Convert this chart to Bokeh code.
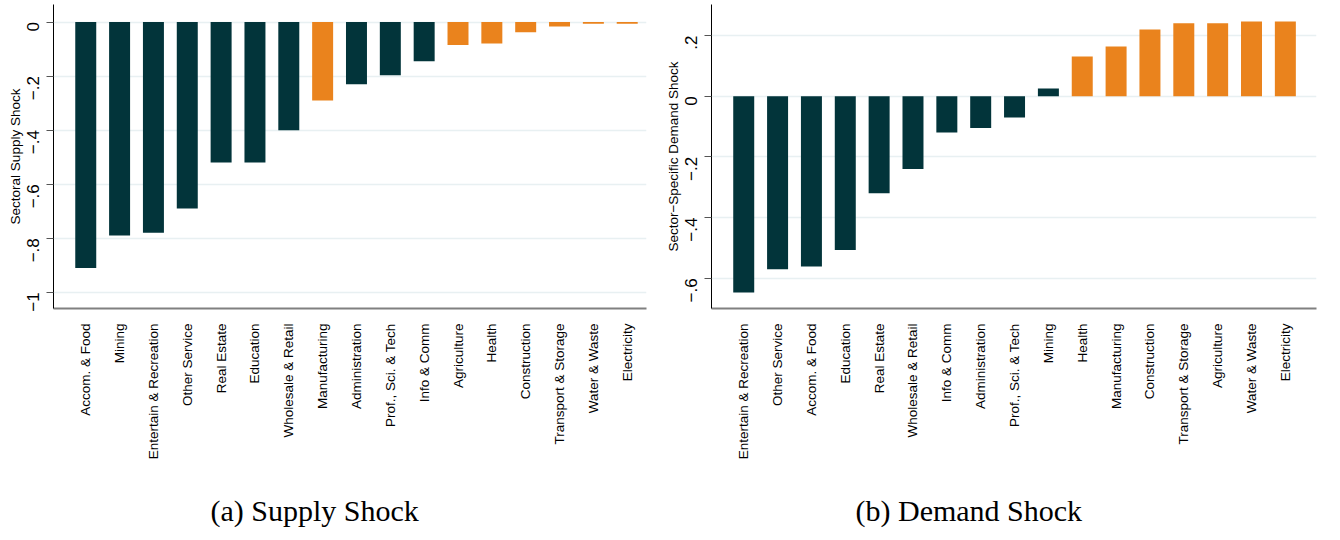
import math

from bokeh.embed import file_html
from bokeh.layouts import row
from bokeh.models import ColumnDataSource, FixedTicker, Range1d, Title
from bokeh.plotting import figure
from bokeh.resources import INLINE

# Sector shocks, sorted from the most negative to the least negative
supply_sectors = [
    "Accom. & Food", "Mining", "Entertain & Recreation", "Other Service",
    "Real Estate", "Education", "Wholesale & Retail", "Manufacturing",
    "Administration", "Prof., Sci. & Tech", "Info & Comm", "Agriculture",
    "Health", "Construction", "Transport & Storage", "Water & Waste",
    "Electricity",
]
supply_values = [
    -0.91, -0.79, -0.78, -0.69, -0.52, -0.52, -0.40, -0.29,
    -0.23, -0.197, -0.145, -0.085, -0.079, -0.038, -0.016, -0.006, -0.006,
]

demand_sectors = [
    "Entertain & Recreation", "Other Service", "Accom. & Food", "Education",
    "Real Estate", "Wholesale & Retail", "Info & Comm", "Administration",
    "Prof., Sci. & Tech", "Mining", "Health", "Manufacturing",
    "Construction", "Transport & Storage", "Agriculture", "Water & Waste",
    "Electricity",
]
demand_values = [
    -0.647, -0.570, -0.561, -0.507, -0.320, -0.240, -0.120, -0.105,
    -0.070, 0.025, 0.131, 0.164, 0.220, 0.240, 0.240, 0.246, 0.246,
]

# Sectors drawn in the highlight colour in both panels
highlight_sectors = [
    "Manufacturing", "Agriculture", "Health", "Construction",
    "Transport & Storage", "Water & Waste", "Electricity",
]

supply_ticks = [-1.0, -0.8, -0.6, -0.4, -0.2, 0.0]
supply_tick_labels = ["\u22121", "\u2212.8", "\u2212.6", "\u2212.4", "\u2212.2", "0"]
demand_ticks = [-0.6, -0.4, -0.2, 0.0, 0.2]
demand_tick_labels = ["\u2212.6", "\u2212.4", "\u2212.2", "0", ".2"]

DARK = "#02343A"
ORANGE = "#EA831D"
GRID = "#E8F0F2"
SANS = "Liberation Sans"
SERIF = "Liberation Serif"


def make_panel(sectors, values, ticks, tick_labels, ylabel, caption,
               caption_offset, y_start, y_end, x_start, x_end, width,
               border_left, border_right, border_top):
    xs = list(range(1, len(sectors) + 1))
    colors = [ORANGE if s in highlight_sectors else DARK for s in sectors]
    src = ColumnDataSource(dict(x=xs, top=values, color=colors))

    p = figure(
        width=width, height=540,
        x_range=Range1d(x_start, x_end), y_range=Range1d(y_start, y_end),
        output_backend="svg", toolbar_location=None,
        min_border_left=border_left, min_border_right=border_right,
        min_border_top=border_top, min_border_bottom=232,
    )
    p.outline_line_color = None
    p.background_fill_color = "white"
    p.border_fill_color = "white"

    p.vbar(x="x", top="top", bottom=0, width=0.62, color="color",
           line_color=None, source=src)

    # horizontal grid on the value ticks only
    p.xgrid.grid_line_color = None
    p.ygrid.ticker = FixedTicker(ticks=ticks)
    p.ygrid.grid_line_color = GRID
    p.ygrid.grid_line_width = 1.5

    # category axis with vertical labels
    xa = p.xaxis[0]
    xa.ticker = FixedTicker(ticks=xs)
    xa.major_label_overrides = {x: s for x, s in zip(xs, sectors)}
    xa.major_label_orientation = math.pi / 2
    xa.major_label_text_font = SANS
    xa.major_label_text_font_size = "13.5px"
    xa.major_label_text_color = "black"
    xa.major_label_standoff = 9
    xa.major_tick_line_color = None
    xa.minor_tick_line_color = None
    xa.axis_line_color = "#808080"
    xa.axis_line_width = 2
    # blank axis label: keeps a gap between sector names and the caption
    xa.axis_label = "\u00a0"
    xa.axis_label_text_font_size = "12px"
    xa.axis_label_standoff = 12

    # value axis
    ya = p.yaxis[0]
    ya.ticker = FixedTicker(ticks=ticks)
    ya.major_label_overrides = {t: s for t, s in zip(ticks, tick_labels)}
    ya.major_label_orientation = math.pi / 2
    ya.major_label_text_font = SANS
    ya.major_label_text_font_size = "17px"
    ya.major_label_text_color = "black"
    ya.major_label_standoff = 13
    ya.major_tick_out = 7
    ya.major_tick_in = 0
    ya.major_tick_line_color = "#555555"
    ya.minor_tick_line_color = None
    ya.axis_line_color = "black"
    ya.axis_line_width = 1
    ya.axis_label = ylabel
    ya.axis_label_text_font = SANS
    ya.axis_label_text_font_size = "13.5px"
    ya.axis_label_text_font_style = "normal"
    ya.axis_label_text_color = "black"
    ya.axis_label_standoff = -4

    # panel caption underneath the sector labels
    p.add_layout(Title(
        text=caption, align="left", offset=caption_offset, standoff=0,
        text_font=SERIF, text_font_size="30px", text_font_style="normal",
        text_color="black",
    ), "below")
    return p


p1 = make_panel(
    supply_sectors, supply_values, supply_ticks, supply_tick_labels,
    "Sectoral Supply Shock", "(a) Supply Shock", 157,
    y_start=-1.060, y_end=0.065, x_start=0.047, x_end=17.57,
    width=660, border_left=53, border_right=14, border_top=3,
)
p2 = make_panel(
    demand_sectors, demand_values, demand_ticks, demand_tick_labels,
    "Sector\u2212Specific Demand Shock", "(b) Demand Shock", 144,
    y_start=-0.6995, y_end=0.302, x_start=0.048, x_end=17.92,
    width=680, border_left=51, border_right=24, border_top=4,
)

layout = row(p1, p2)
open("out.html", "w").write(file_html(layout, INLINE))
